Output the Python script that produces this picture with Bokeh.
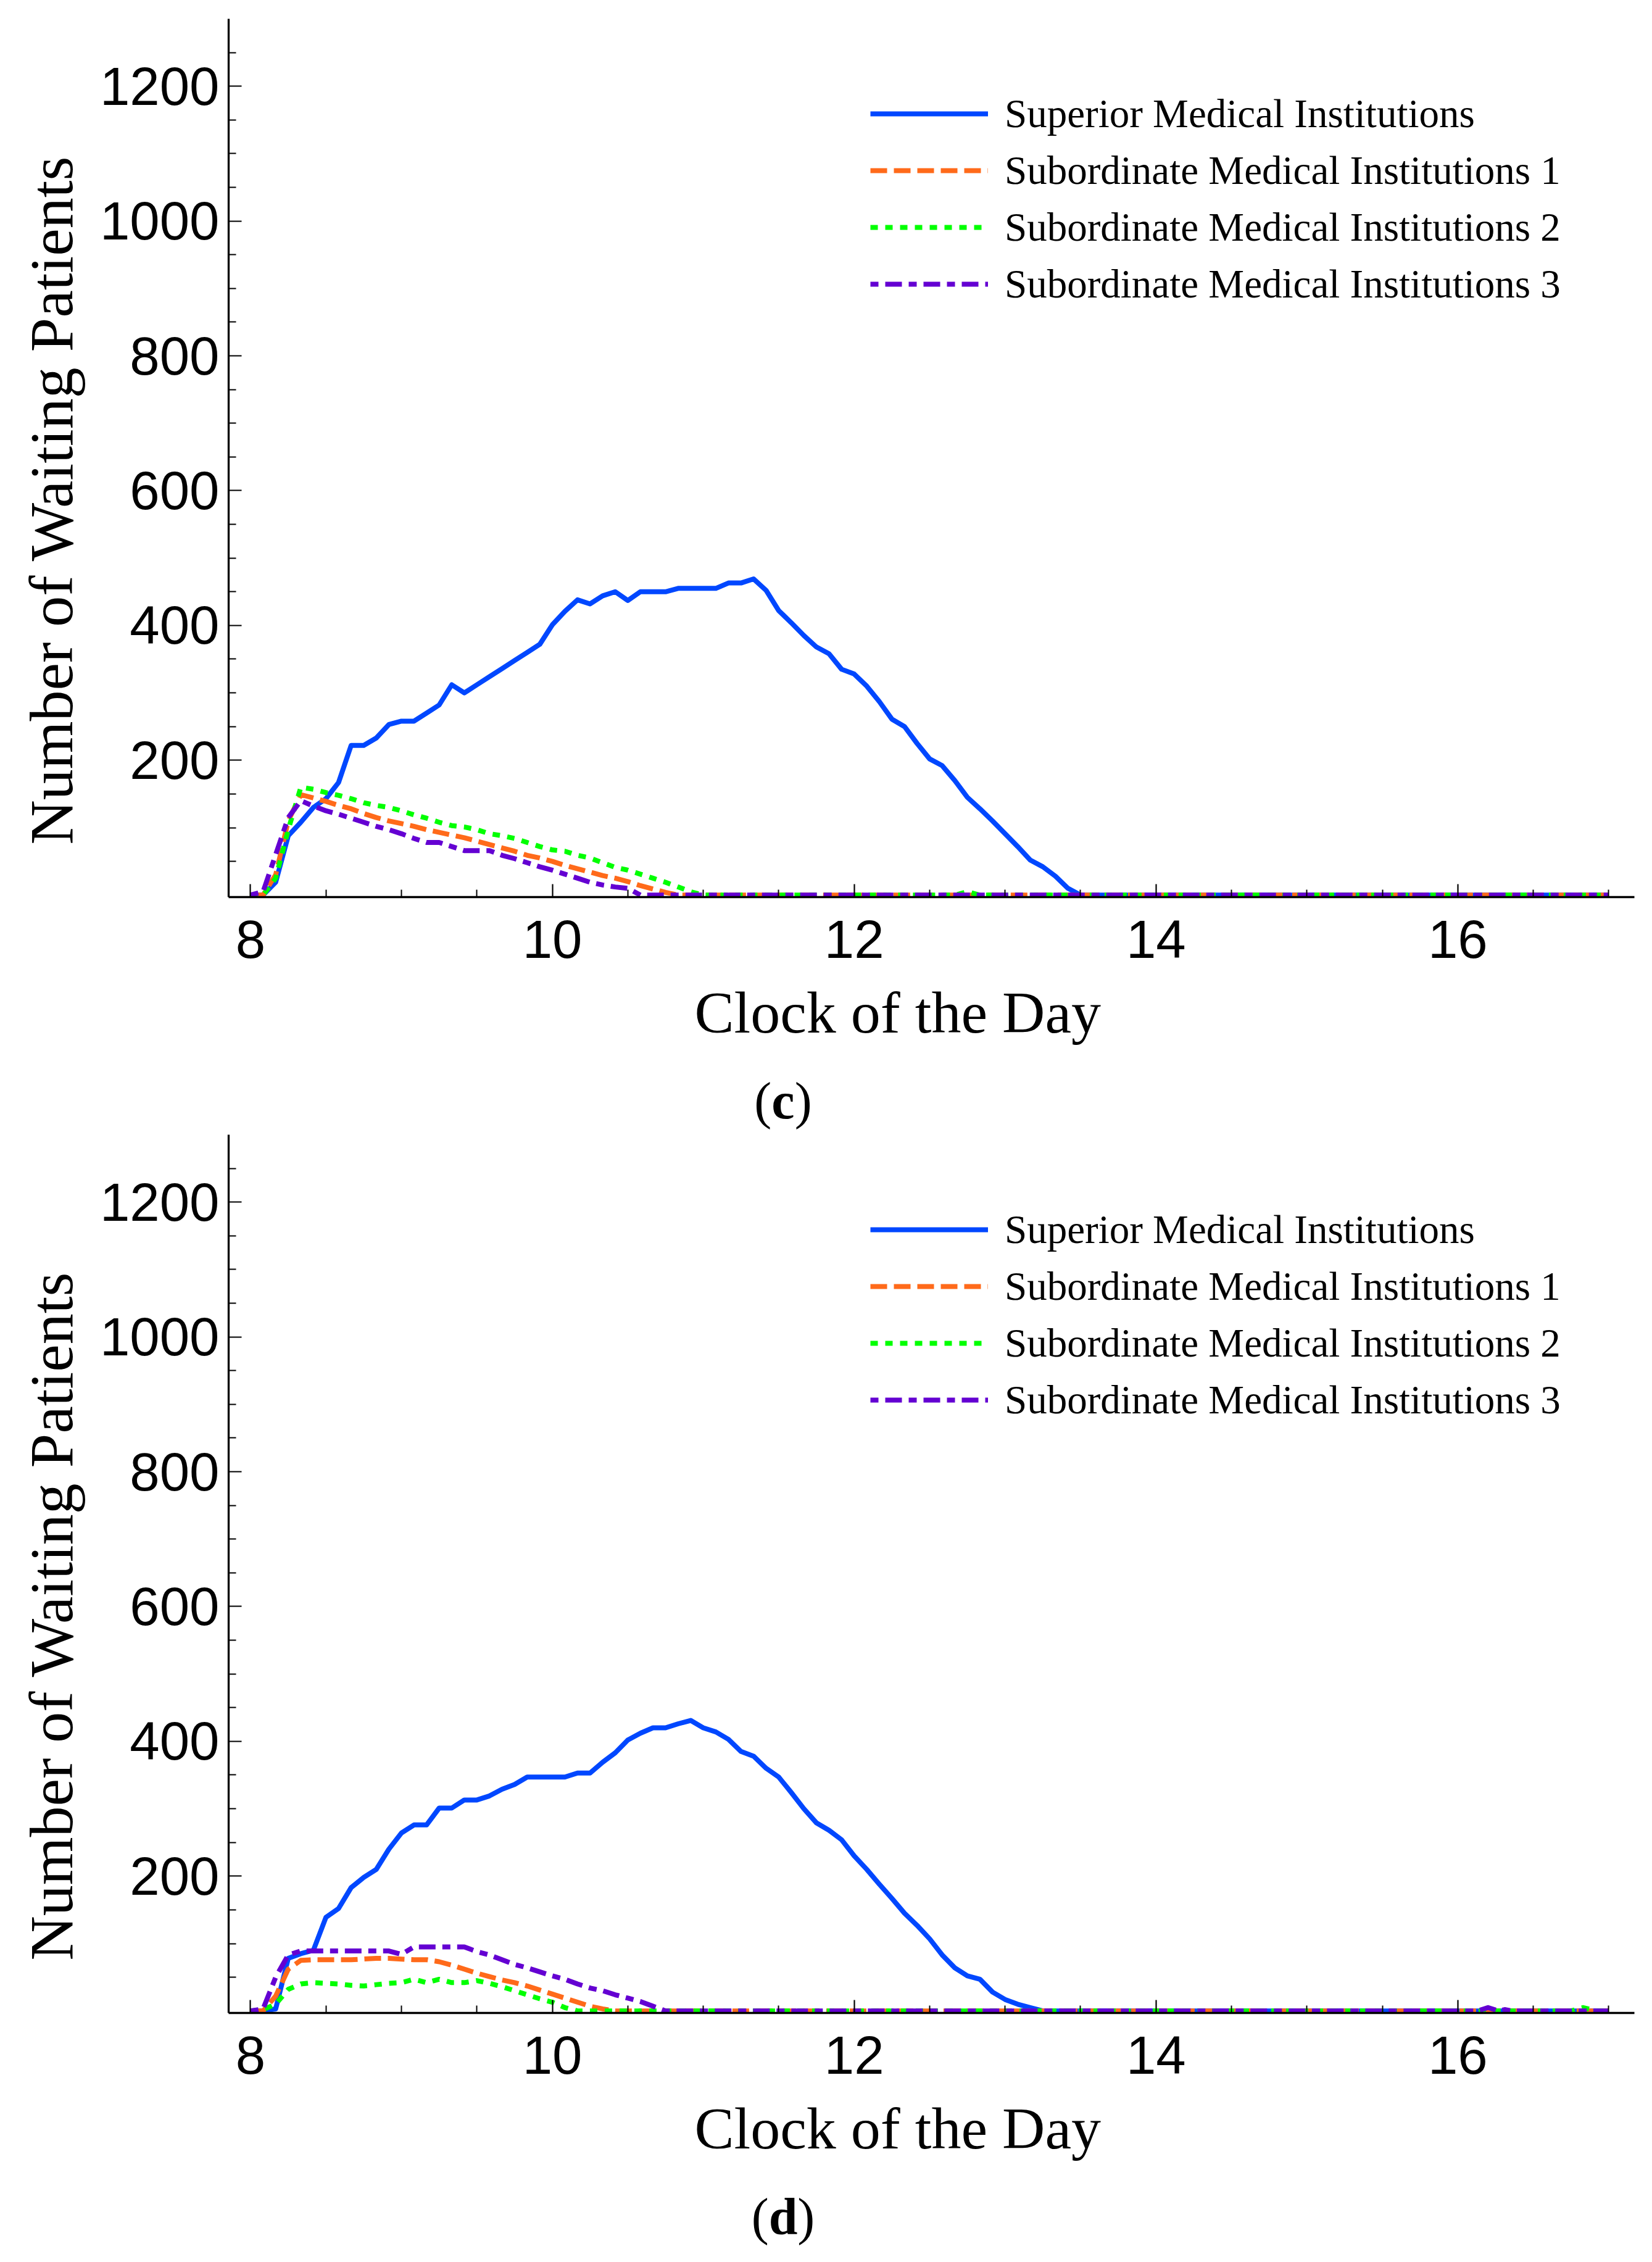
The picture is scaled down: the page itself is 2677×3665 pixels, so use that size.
from bokeh.plotting import figure
from bokeh.models import FixedTicker, Legend, LegendItem, Range1d, Div, Title
from bokeh.layouts import column
from bokeh.embed import file_html
from bokeh.resources import INLINE

# ---------------- data ----------------
START_HOUR = 8.0
STEP_HOURS = 5 / 60          # samples every 5 minutes
END_HOUR = 17.0

SERIES_NAMES = [
    "Superior Medical Institutions",
    "Subordinate Medical Institutions 1",
    "Subordinate Medical Institutions 2",
    "Subordinate Medical Institutions 3",
]
COLORS = ["#0047ff", "#ff6a1a", "#00ff00", "#6400d2"]
DASHES = ["solid", "27 11", "12 12", "13 11 27 11"]

X_LABEL = "Clock of the Day"
Y_LABEL = "Number of Waiting Patients"
X_TICKS = [8, 10, 12, 14, 16]
X_MINOR = [8.5, 9, 9.5, 10.5, 11, 11.5, 12.5, 13, 13.5, 14.5, 15, 15.5, 16.5, 17]
Y_TICKS = [200, 400, 600, 800, 1000, 1200]
Y_MINOR = [50, 100, 150, 250, 300, 350, 450, 500, 550, 650, 700, 750, 850, 900,
           950, 1050, 1100, 1150, 1250]

# panel (c)
superior_c = [0, 0, 19, 88, 108, 130, 143, 167, 222, 222, 233, 253, 258, 258, 270,
              282, 312, 300, 312, 324, 336, 348, 360, 372, 401, 421, 438, 432, 444,
              450, 437, 450, 450, 450, 455, 455, 455, 455, 463, 463, 469, 452, 422,
              404, 385, 368, 358, 335, 328, 310, 287, 261, 250, 225, 202, 192, 170,
              145, 128, 110, 91, 72, 52, 42, 28, 10, 0]
sub1_c = [0, 0, 30, 110, 149, 144, 139, 133, 128, 121, 115, 110, 106, 102, 97, 93, 89,
          85, 80, 75, 70, 65, 59, 55, 50, 44, 39, 34, 29, 25, 20, 14, 9, 4, 0]
sub2_c = [0, 0, 25, 97, 160, 157, 152, 148, 143, 137, 133, 130, 125, 119, 114, 108, 103,
          101, 97, 91, 88, 84, 78, 72, 67, 65, 59, 55, 48, 41, 37, 31, 25, 19, 12, 5, 0]
sub3_c = [0, 5, 60, 115, 140, 132, 125, 120, 114, 108, 102, 97, 91, 84, 78, 78, 72, 66,
          66, 66, 59, 54, 48, 42, 37, 31, 25, 19, 15, 12, 10, 0]
# late points (hour, value) after the regular part
tail_t_c = [[17.0], [17.0], [12.67, 12.75, 12.83, 17.0], [17.0]]
tail_v_c = [[0], [0], [0, 5, 0, 0], [0]]

# panel (d)
superior_d = [0, 0, 3, 78, 85, 90, 139, 152, 183, 198, 210, 240, 264, 276, 276, 301,
              301, 313, 313, 319, 329, 336, 347, 347, 347, 347, 353, 353, 369, 383,
              402, 412, 420, 420, 426, 431, 420, 414, 403, 385, 378, 360, 347, 324,
              300, 279, 268, 254, 230, 210, 188, 167, 145, 127, 107, 83, 64, 52, 47,
              28, 17, 10, 5, 0]
sub1_d = [0, 0, 22, 62, 75, 76, 76, 76, 76, 77, 78, 78, 77, 76, 76, 73, 68, 62, 56, 51,
          46, 42, 37, 31, 25, 19, 13, 7, 3, 0]
sub2_d = [0, 2, 10, 32, 40, 42, 41, 40, 38, 37, 39, 41, 42, 47, 42, 47, 42, 42, 45, 41,
          36, 30, 24, 18, 13, 5, 0]
sub3_d = [0, 3, 50, 83, 89, 89, 89, 89, 89, 89, 89, 89, 84, 95, 95, 95, 95, 95, 88, 83,
          76, 69, 64, 58, 52, 47, 40, 34, 30, 24, 19, 14, 7, 0]
tail_t_d = [[17.0], [17.0], [16.75, 16.83, 16.92, 17.0],
            [16.13, 16.2, 16.27, 16.31, 16.36, 17.0]]
tail_v_d = [[0], [0], [0, 5, 0, 0], [0, 5, 0, 2, 0, 0]]

CAPTIONS = ["c", "d"]

SERIF = "Liberation Serif"
SANS = "Liberation Sans"


def series_xy(vals, tail_t, tail_v):
    t = [START_HOUR + i * STEP_HOURS for i in range(len(vals))] + list(tail_t)
    return t, list(vals) + list(tail_v)


def make_panel(all_vals, tails_t, tails_v, height, top, bottom):
    p = figure(width=2668, height=height,
               x_range=Range1d(7.855, 17.17), y_range=Range1d(-3, 1300),
               output_backend="svg", toolbar_location=None,
               min_border_left=370, min_border_right=20, min_border_top=top,
               min_border_bottom=bottom, outline_line_color=None,
               background_fill_color="white", border_fill_color="white")
    p.grid.visible = False

    items = []
    for vals, tt, tv, name, col, dash in zip(all_vals, tails_t, tails_v,
                                             SERIES_NAMES, COLORS, DASHES):
        t, y = series_xy(vals, tt, tv)
        r = p.line(t, y, line_color=col, line_width=8, line_dash=dash,
                   line_join="round")
        items.append(LegendItem(label=name, renderers=[r]))

    legend = Legend(items=items, location=(1040, 947),
                    border_line_color=None, background_fill_alpha=0,
                    padding=0, margin=0, spacing=0,
                    glyph_width=191, glyph_height=92, label_height=92,
                    label_standoff=27, label_text_font=SERIF,
                    label_text_font_size="65px", label_text_color="black")
    p.add_layout(legend)

    for ax in (p.xaxis[0], p.yaxis[0]):
        ax.axis_line_width = 3.3
        ax.axis_line_color = "black"
        ax.major_tick_line_width = 2.2
        ax.minor_tick_line_width = 2
        ax.major_tick_in = 21
        ax.major_tick_out = 0
        ax.minor_tick_in = 12
        ax.minor_tick_out = 0
        ax.major_label_text_font = SANS
        ax.major_label_text_font_size = "87px"
        ax.major_label_text_color = "black"

    p.xaxis.ticker = FixedTicker(ticks=X_TICKS, minor_ticks=X_MINOR)
    p.yaxis.ticker = FixedTicker(ticks=Y_TICKS, minor_ticks=Y_MINOR)
    p.xaxis.major_label_standoff = 38
    p.yaxis.major_label_standoff = 15

    # axis titles (placed like the reference, slightly off the frame centre)
    xlab = Title(text=X_LABEL, align="left", offset=755, vertical_align="top",
                 standoff=64, text_font=SERIF, text_font_size="96px",
                 text_font_style="normal", text_color="black")
    p.add_layout(xlab, "below")
    ylab = Title(text=Y_LABEL, align="left", offset=85, vertical_align="bottom",
                 standoff=40, text_font=SERIF, text_font_size="100px",
                 text_font_style="normal", text_color="black")
    p.add_layout(ylab, "left")
    return p


def make_caption(letter):
    html = ('<div style="width:2538px;text-align:center;'
            "font-family:'Liberation Serif',serif;font-size:84px;"
            'line-height:21px;padding:0;color:black;margin:0;">'
            '(<b>%s</b>)</div>' % letter)
    return Div(text=html, width=2668, height=59, margin=0)


p1 = make_panel([superior_c, sub1_c, sub2_c, sub3_c], tail_t_c, tail_v_c,
                1773, 30, 320)
p2 = make_panel([superior_d, sub1_d, sub2_d, sub3_d], tail_t_d, tail_v_d,
                1749, 6, 320)

page = column(p1, make_caption(CAPTIONS[0]), p2, make_caption(CAPTIONS[1]),
              spacing=0)
open("out.html", "w").write(file_html(page, INLINE))
